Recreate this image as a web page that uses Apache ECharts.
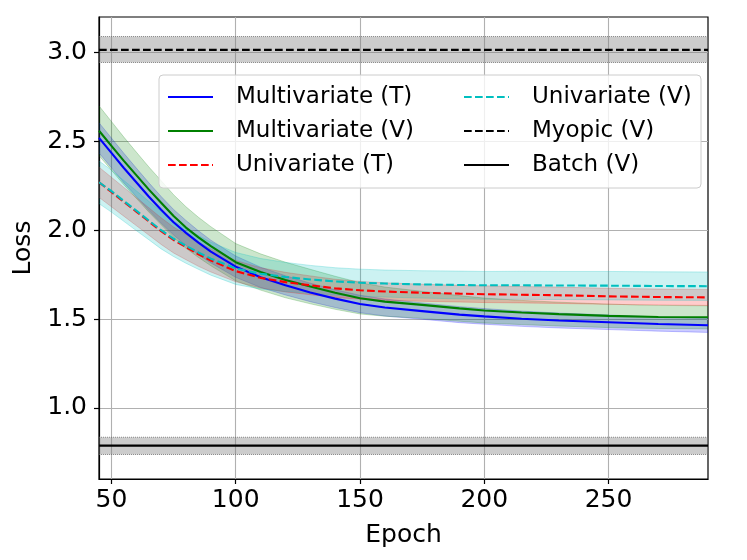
<!DOCTYPE html>
<html>
<head>
<meta charset="utf-8">
<script src="https://cdn.jsdelivr.net/npm/echarts@6/dist/echarts.min.js"></script>
<style>
html,body{margin:0;padding:0;background:#fff;}
#chart{width:747px;height:560px;}
</style>
</head>
<body>
<div id="chart"></div>
<script>
const epochs = [45,50,55,60,65,70,75,80,85,90,100,110,120,130,140,150,160,175,190,200,215,230,250,270,290];

const multiT   = [2.52,2.435,2.35,2.27,2.19,2.115,2.045,1.985,1.93,1.88,1.795,1.735,1.69,1.65,1.615,1.585,1.565,1.545,1.525,1.515,1.502,1.492,1.482,1.472,1.465];
const multiTSd = [0.085,0.084,0.083,0.08,0.078,0.075,0.072,0.07,0.067,0.064,0.06,0.057,0.054,0.052,0.05,0.049,0.048,0.046,0.045,0.044,0.043,0.042,0.041,0.04,0.04];

const multiV   = [2.56,2.475,2.39,2.31,2.23,2.155,2.08,2.015,1.96,1.91,1.82,1.765,1.72,1.683,1.648,1.617,1.598,1.58,1.56,1.548,1.537,1.528,1.518,1.512,1.51];
const multiVSd = [0.14,0.137,0.134,0.13,0.127,0.124,0.12,0.117,0.113,0.11,0.105,0.102,0.1,0.097,0.093,0.088,0.082,0.076,0.072,0.07,0.068,0.067,0.066,0.065,0.065];

const uniT   = [2.27,2.215,2.16,2.105,2.05,1.995,1.945,1.905,1.865,1.83,1.77,1.732,1.708,1.69,1.673,1.662,1.655,1.648,1.643,1.64,1.637,1.634,1.628,1.624,1.622];
const uniTSd = [0.085,0.083,0.081,0.079,0.077,0.075,0.073,0.071,0.068,0.065,0.06,0.057,0.055,0.053,0.051,0.05,0.049,0.048,0.047,0.047,0.046,0.046,0.045,0.045,0.045];

const uniV   = [2.27,2.22,2.165,2.11,2.055,2.0,1.952,1.912,1.875,1.84,1.785,1.755,1.737,1.723,1.712,1.705,1.70,1.695,1.692,1.69,1.69,1.689,1.688,1.686,1.685];
const uniVSd = [0.12,0.118,0.115,0.112,0.108,0.105,0.1,0.098,0.095,0.093,0.09,0.086,0.082,0.079,0.077,0.076,0.076,0.077,0.078,0.078,0.079,0.079,0.08,0.08,0.08];

const myopic = {mean: 3.015, low: 2.944, high: 3.09};
const batch  = {mean: 0.788, low: 0.738, high: 0.835};

const xTicks = [50,100,150,200,250];
const yTicks = [1.0,1.5,2.0,2.5,3.0];

const FONT = 'DejaVu Sans';
const dash = [7.7, 3.3];

function bandRows(mean, sd) {
  return epochs.map((e, i) => [e, mean[i] - sd[i], mean[i] + sd[i]]);
}
function constRows(b) {
  return [epochs[0], epochs[epochs.length - 1]].map(e => [e, b.low, b.high]);
}

function bandSeries(rows, fill, edge, edgeType) {
  return {
    type: 'custom', coordinateSystem: 'cartesian2d', silent: true, z: 1, clip: true,
    data: rows,
    encode: {x: 0, y: [1, 2]},
    renderItem: function (params, api) {
      if (params.dataIndex !== 0) return null;
      const lo = rows.map(r => api.coord([r[0], r[1]]));
      const hi = rows.map(r => api.coord([r[0], r[2]]));
      const poly = lo.concat(hi.slice().reverse());
      return {
        type: 'group',
        children: [
          {type: 'polygon', shape: {points: poly, smooth: 0}, style: {fill: fill, stroke: null}},
          {type: 'polyline', shape: {points: lo}, style: {stroke: edge, lineWidth: 1, fill: null, lineDash: edgeType}},
          {type: 'polyline', shape: {points: hi}, style: {stroke: edge, lineWidth: 1, fill: null, lineDash: edgeType}}
        ]
      };
    }
  };
}

function meanLine(name, mean, color, type) {
  return {
    name: name, type: 'line', symbol: 'none', z: 3,
    data: epochs.map((e, i) => [e, mean[i]]),
    lineStyle: {color: color, width: 2.1, type: type},
    itemStyle: {color: color}
  };
}

function constLine(name, v, type) {
  const xs = [epochs[0], epochs[epochs.length - 1]];
  return {
    name: name, type: 'line', symbol: 'none', z: 3,
    data: xs.map(e => [e, v]),
    lineStyle: {color: '#000000', width: 2.1, type: type},
    itemStyle: {color: '#000000'}
  };
}

const series = [
  bandSeries(bandRows(multiT, multiTSd), 'rgba(0,0,255,0.2)', 'rgba(0,0,255,0.22)', null),
  bandSeries(bandRows(multiV, multiVSd), 'rgba(0,128,0,0.2)', 'rgba(0,128,0,0.22)', null),
  bandSeries(bandRows(uniT, uniTSd), 'rgba(255,0,0,0.2)', 'rgba(255,0,0,0.22)', null),
  bandSeries(bandRows(uniV, uniVSd), 'rgba(0,191,191,0.2)', 'rgba(0,191,191,0.25)', null),
  bandSeries(constRows(myopic), 'rgba(128,128,128,0.4)', 'rgba(100,100,100,0.7)', [1, 1]),
  bandSeries(constRows(batch), 'rgba(128,128,128,0.4)', 'rgba(100,100,100,0.7)', [1, 1]),
  meanLine('Multivariate (T)', multiT, '#0000ff', 'solid'),
  meanLine('Multivariate (V)', multiV, '#008000', 'solid'),
  meanLine('Univariate (T)', uniT, '#ff0000', dash),
  meanLine('Univariate (V)', uniV, '#00bfbf', dash),
  constLine('Myopic (V)', myopic.mean, dash),
  constLine('Batch (V)', batch.mean, 'solid')
];

const legendCommon = {
  orient: 'vertical', z: 20, padding: 0,
  itemWidth: 45, itemHeight: 14, itemGap: 10,
  itemStyle: {opacity: 0},
  textStyle: {fontFamily: FONT, fontSize: 23, color: '#000', lineHeight: 24, padding: [0, 0, 0, 18]},
  selectedMode: false
};

const option = {
  animation: false,
  backgroundColor: '#ffffff',
  textStyle: {fontFamily: FONT},
  grid: {left: 99, right: 39, top: 17, bottom: 81, show: true, borderColor: '#000', borderWidth: 1.2, backgroundColor: 'transparent'},
  xAxis: {
    type: 'value', min: 45, max: 290,
    name: 'Epoch', nameLocation: 'middle', nameGap: 44,
    nameTextStyle: {fontFamily: FONT, fontSize: 25, color: '#000'},
    axisLine: {show: true, lineStyle: {color: '#000', width: 1.2}},
    axisTick: {show: true, length: 5, customValues: xTicks, lineStyle: {color: '#000', width: 1.2}},
    axisLabel: {customValues: xTicks, fontFamily: FONT, fontSize: 25, color: '#000', margin: 9},
    splitLine: {show: true, lineStyle: {color: '#b0b0b0', width: 1.1}}
  },
  yAxis: {
    type: 'value', min: 0.6, max: 3.2,
    name: 'Loss', nameLocation: 'middle', nameGap: 54,
    nameTextStyle: {fontFamily: FONT, fontSize: 25, color: '#000'},
    axisLine: {show: true, lineStyle: {color: '#000', width: 1.2}},
    axisTick: {show: true, length: 5, customValues: yTicks, lineStyle: {color: '#000', width: 1.2}},
    axisLabel: {customValues: yTicks, fontFamily: FONT, fontSize: 25, color: '#000', margin: 12,
      formatter: v => Number(v).toFixed(1)},
    splitLine: {show: true, lineStyle: {color: '#b0b0b0', width: 1.1}}
  },
  graphic: [{
    type: 'rect', z: 15,
    shape: {x: 159, y: 75, width: 542, height: 113, r: 4},
    style: {fill: 'rgba(255,255,255,0.8)', stroke: '#cccccc', lineWidth: 1}
  }],
  legend: [
    Object.assign({left: 167, top: 85, data: ['Multivariate (T)', 'Multivariate (V)', 'Univariate (T)']}, legendCommon),
    Object.assign({left: 463, top: 85, data: ['Univariate (V)', 'Myopic (V)', 'Batch (V)']}, legendCommon)
  ],
  series: series
};

const chart = echarts.init(document.getElementById('chart'), null, {renderer: 'canvas'});
chart.setOption(option);
</script>
</body>
</html>
